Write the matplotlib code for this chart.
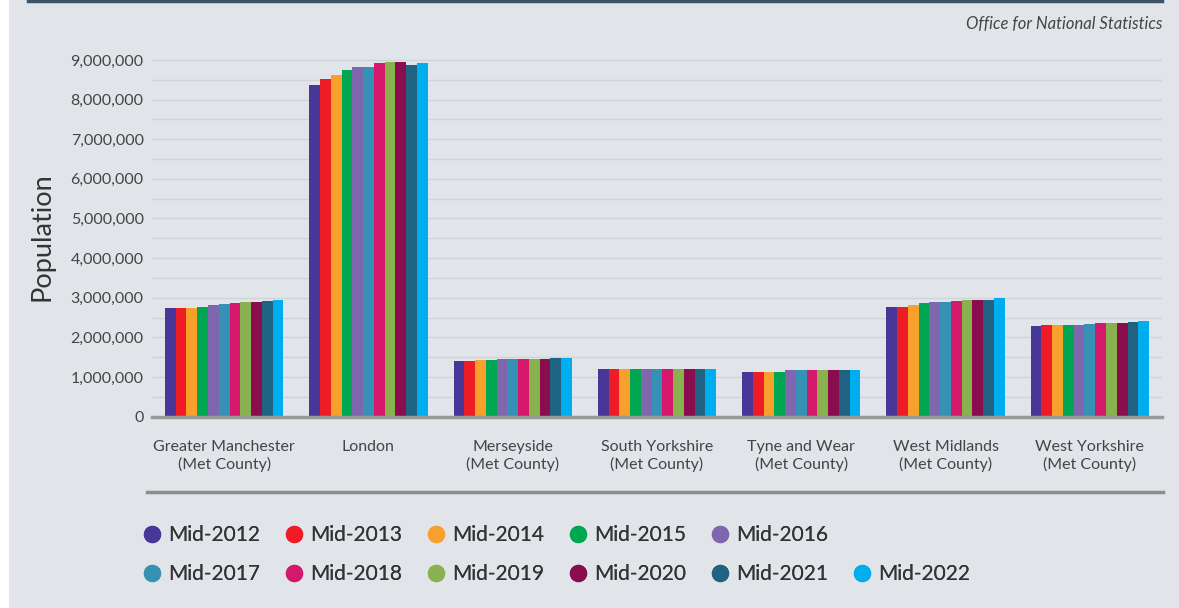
import matplotlib.pyplot as plt
import numpy as np
from matplotlib.lines import Line2D
from matplotlib.patches import Rectangle
from matplotlib.ticker import FuncFormatter, MultipleLocator

plt.rcParams['font.family'] = ['Lato', 'DejaVu Sans']

# Population by metropolitan county, mid-year estimates
counties = [
    "Greater Manchester\n(Met County)",
    "London",
    "Merseyside\n(Met County)",
    "South Yorkshire\n(Met County)",
    "Tyne and Wear\n(Met County)",
    "West Midlands\n(Met County)",
    "West Yorkshire\n(Met County)",
]
years = ["Mid-2012", "Mid-2013", "Mid-2014", "Mid-2015", "Mid-2016", "Mid-2017",
         "Mid-2018", "Mid-2019", "Mid-2020", "Mid-2021", "Mid-2022"]

greater_manchester = [2740000, 2740000, 2740000, 2770000, 2820000, 2840000,
                      2870000, 2890000, 2890000, 2920000, 2940000]
london = [8380000, 8510000, 8610000, 8740000, 8810000, 8810000,
          8910000, 8960000, 8940000, 8860000, 8930000]
merseyside = [1400000, 1400000, 1420000, 1420000, 1450000, 1450000,
              1450000, 1450000, 1450000, 1470000, 1470000]
south_yorkshire = [1200000, 1200000, 1200000, 1200000, 1200000, 1200000,
                   1200000, 1200000, 1200000, 1200000, 1200000]
tyne_and_wear = [1130000, 1130000, 1130000, 1130000, 1170000, 1170000,
                 1170000, 1170000, 1170000, 1170000, 1170000]
west_midlands = [2770000, 2770000, 2820000, 2870000, 2890000, 2890000,
                 2920000, 2940000, 2940000, 2940000, 2990000]
west_yorkshire = [2290000, 2320000, 2320000, 2320000, 2320000, 2340000,
                  2370000, 2370000, 2370000, 2390000, 2420000]

colors = ["#483698", "#ee1c25", "#f7a02c", "#00a651", "#7e67ae", "#3592b5",
          "#d4186b", "#8ab14f", "#8a0d4e", "#1f6382", "#00aeef"]

values = np.array([greater_manchester, london, merseyside, south_yorkshire,
                   tyne_and_wear, west_midlands, west_yorkshire])

W, H = 1179, 608
bg = "#e1e4e9"
text_col = "#444444"

fig = plt.figure(figsize=(W / 100, H / 100), dpi=100, facecolor=bg)
# white strip down the left edge
fig.patches.append(Rectangle((0, 0), 9 / W, 1, transform=fig.transFigure,
                             facecolor="white", edgecolor="none", zorder=0))
# dark rule along the top
fig.add_artist(Line2D([28 / W, 1162 / W], [1 - 1 / H, 1 - 1 / H],
                      color="#3d5468", lw=2.5))

ax = fig.add_axes([152 / W, 1 - 416.7 / H, (1162 - 152) / W, (416.7 - 52) / H])
ax.set_facecolor(bg)

x = np.arange(len(counties))
group_w = 0.82
bar_w = group_w / len(years)
for i, (yr, c) in enumerate(zip(years, colors)):
    ax.bar(x - group_w / 2 + bar_w * (i + 0.5), values[:, i], width=bar_w,
           color=c, edgecolor="none", label=yr, zorder=3)

ax.set_xlim(-0.5, len(counties) - 0.5)
ax.set_ylim(0, 9.2e6)
ax.yaxis.set_major_locator(MultipleLocator(1e6))
ax.yaxis.set_minor_locator(MultipleLocator(5e5))
ax.yaxis.set_major_formatter(FuncFormatter(lambda v, p: f"{int(v):,}"))
ax.grid(axis="y", which="both", color="#d0d3d8", lw=1, zorder=0)
ax.set_axisbelow(True)

for s in ["top", "right", "left"]:
    ax.spines[s].set_visible(False)
ax.spines["bottom"].set_color("#999999")
ax.spines["bottom"].set_linewidth(2.5)
ax.spines["bottom"].set_zorder(4)

ax.set_xticks(x)
ax.set_xticklabels(counties, fontsize=11.5, color=text_col, linespacing=1.2)
ax.tick_params(axis="x", length=0, pad=17)
ax.tick_params(axis="y", which="both", length=0, pad=6, labelsize=11.5,
               labelcolor=text_col)

fig.text(42 / W, 1 - 237 / H, "Population", rotation=90, ha="center",
         va="center", fontsize=19.5, color="#333333")
fig.text(1162 / W, 1 - 24 / H, "Office for National Statistics", ha="right",
         va="center", style="italic", fontsize=12, color=text_col)

# separator above the legend
fig.add_artist(Line2D([147 / W, 1163 / W], [1 - 492 / H, 1 - 492 / H],
                      color="#8d8d8d", lw=2.5))

handles = [Line2D([], [], marker="o", ls="none", markersize=12.5,
                  markerfacecolor=c, markeredgecolor="none") for c in colors]
for row, (idx, y) in enumerate([(range(0, 5), 535), (range(5, 11), 574)]):
    leg = fig.legend([handles[i] for i in idx], [years[i] for i in idx],
                     loc="center left", bbox_to_anchor=(143 / W, 1 - y / H),
                     ncol=len(idx), frameon=False, fontsize=15,
                     handlelength=0.9, handletextpad=0.3, columnspacing=1.2,
                     labelcolor="#333333", borderaxespad=0, borderpad=0)
    fig.add_artist(leg)

fig.savefig("out.png", dpi=100, facecolor=bg)
